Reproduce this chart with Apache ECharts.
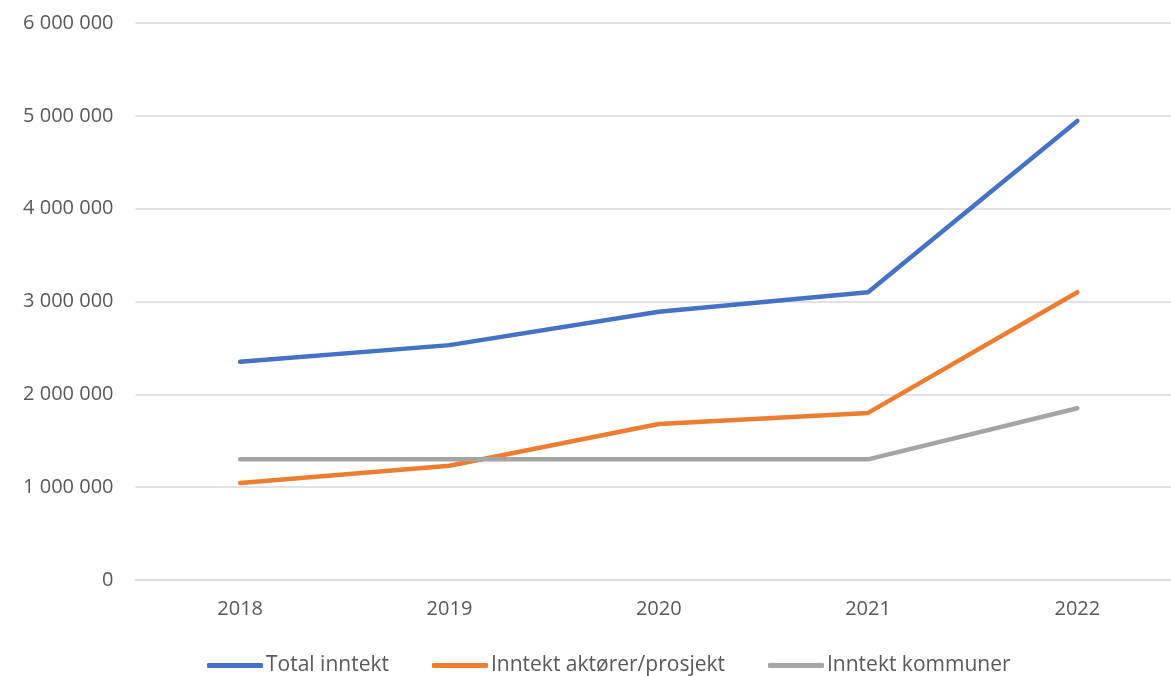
<!DOCTYPE html>
<html>
<head>
<meta charset="utf-8">
<script src="https://cdn.jsdelivr.net/npm/echarts@6/dist/echarts.min.js"></script>
<style>html,body{margin:0;padding:0;background:#fff;overflow:hidden;width:1171px;height:676px}#c{width:1182px;height:676px}</style>
</head>
<body>
<div id="c"></div>
<script>
const categories = ['2018', '2019', '2020', '2021', '2022'];
const totalInntekt = [2350000, 2530000, 2890000, 3100000, 4945000];
const inntektAktorer = [1045000, 1230000, 1680000, 1800000, 3100000];
const inntektKommuner = [1300000, 1300000, 1300000, 1300000, 1850000];
const seriesNames = ['Total inntekt', 'Inntekt aktører/prosjekt', 'Inntekt kommuner'];
const colors = ['#4472C4', '#ED7D31', '#A5A5A5'];

function fmt(v) {
  return String(v).replace(/\B(?=(\d{3})+(?!\d))/g, ' ');
}

const chart = echarts.init(document.getElementById('c'), null, {renderer: 'canvas'});
const mk = (name, data, color) => ({
  name, type: 'line', data, color,
  symbol: 'none', smooth: false,
  lineStyle: {width: 4.5, color, cap: 'round', join: 'round'},
  itemStyle: {color}
});
chart.setOption({
  animation: false,
  grid: {left: 135.5, right: 0, top: 23, bottom: 96, containLabel: false},
  legend: {
    top: 650, left: 202,
    itemWidth: 56, itemHeight: 5, itemGap: 43,
    icon: 'roundRect',
    textStyle: {color: '#595959', fontSize: 21, fontFamily: 'Open Sans', padding: [0, 0, 0, -2]},
    data: seriesNames
  },
  xAxis: {
    type: 'category', data: categories, boundaryGap: true,
    axisLine: {show: true, lineStyle: {color: '#D9D9D9', width: 1.5}},
    axisTick: {show: false},
    axisLabel: {color: '#595959', fontSize: 20, fontFamily: 'Open Sans', margin: 19}
  },
  yAxis: {
    type: 'value', min: 0, max: 6000000, interval: 1000000,
    axisLine: {show: false}, axisTick: {show: false},
    splitLine: {lineStyle: {color: '#D9D9D9', width: 1.5}},
    axisLabel: {color: '#595959', fontSize: 20, fontFamily: 'Open Sans', margin: 22, formatter: fmt}
  },
  series: [
    mk(seriesNames[0], totalInntekt, colors[0]),
    mk(seriesNames[1], inntektAktorer, colors[1]),
    mk(seriesNames[2], inntektKommuner, colors[2])
  ]
});
</script>
</body>
</html>
